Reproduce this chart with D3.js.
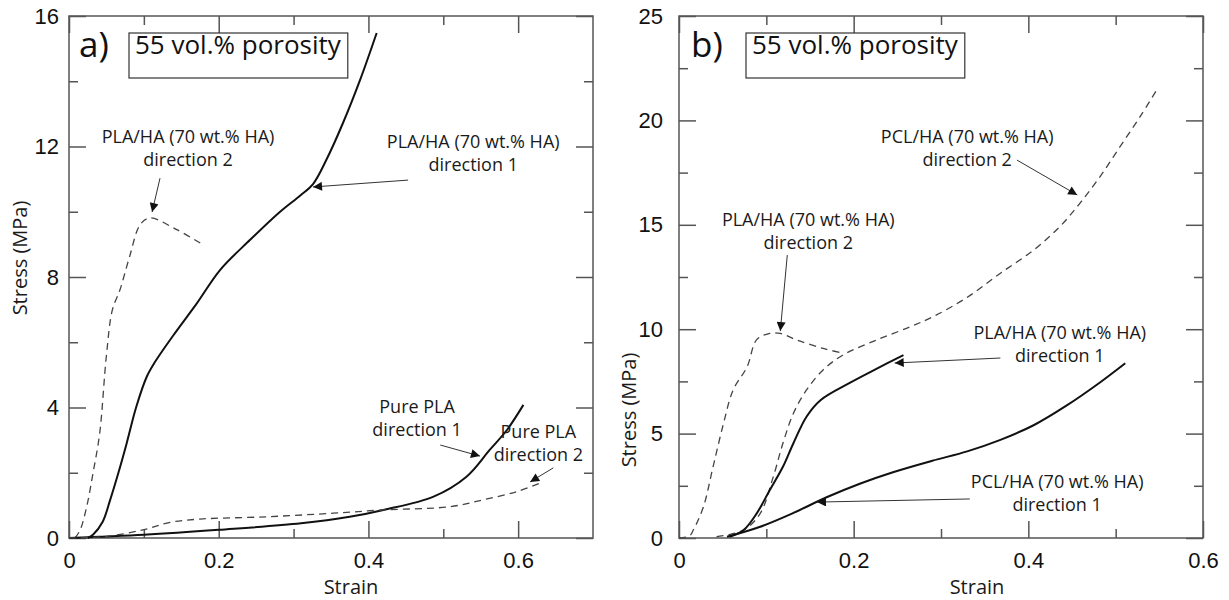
<!DOCTYPE html>
<html>
<head>
<meta charset="utf-8">
<script src="https://cdn.jsdelivr.net/npm/d3@7"></script>
<style>
  body { margin: 0; background: #fff; }
  .tick text { font-family: "Liberation Sans", Arial, sans-serif; font-size: 22px; fill: #111; }
  .tick line { stroke: #555; stroke-width: 1.5; }
  .note { font-family: "Open Sans", sans-serif; font-size: 18px; fill: #1a1a1a; }
  .axis-title { font-family: "Open Sans", sans-serif; font-size: 20px; fill: #1a1a1a; }
</style>
</head>
<body>
<svg id="chart" width="1229" height="600"></svg>
<script>
// ---- panel a) : [strain, stress MPa]
const aPlaHaDir1 = [[0.025, 0], [0.032, 0.1], [0.045, 0.5], [0.055, 1.17], [0.066, 2.0], [0.077, 2.9], [0.090, 4.03],
  [0.104, 4.95], [0.115, 5.4], [0.139, 6.2], [0.171, 7.2], [0.202, 8.22], [0.242, 9.14], [0.282, 10.0],
  [0.309, 10.5], [0.326, 10.85], [0.344, 11.6], [0.366, 12.72], [0.389, 14.05], [0.411, 15.48]];
const aPlaHaDir2 = [[0.008, 0], [0.015, 0.25], [0.024, 1.0], [0.032, 1.98], [0.041, 3.21], [0.050, 5.6], [0.058, 7.0],
  [0.068, 7.6], [0.081, 8.63], [0.095, 9.6], [0.108, 9.81], [0.144, 9.45], [0.179, 8.99]];
const aPureDir1 = [[0.0, 0.0], [0.04, 0.04], [0.1, 0.1], [0.2, 0.25], [0.31, 0.45], [0.375, 0.65], [0.42, 0.86],
  [0.487, 1.27], [0.531, 1.88], [0.562, 2.7], [0.585, 3.31], [0.607, 4.08]];
const aPureDir2 = [[0.0, 0.0], [0.05, 0.05], [0.099, 0.25], [0.135, 0.48], [0.175, 0.58], [0.264, 0.65], [0.353, 0.76],
  [0.42, 0.86], [0.509, 0.96], [0.553, 1.17], [0.598, 1.42], [0.629, 1.68]];

// ---- panel b)
const bPlaHaDir2 = [[0.0, 0.0], [0.012, 0.1], [0.0164, 0.38], [0.028, 1.5], [0.039, 3.41], [0.051, 5.49], [0.062, 7.09],
  [0.078, 8.2], [0.089, 9.5], [0.104, 9.8], [0.116, 9.8], [0.135, 9.48], [0.165, 9.08], [0.188, 8.85]];
const bPclHaDir2 = [[0.043, 0.06], [0.074, 0.38], [0.093, 1.18], [0.108, 2.94], [0.119, 4.54], [0.131, 5.97],
  [0.146, 7.09], [0.165, 8.05], [0.188, 8.77], [0.226, 9.48], [0.265, 10.12], [0.291, 10.6], [0.329, 11.5],
  [0.368, 12.68], [0.406, 13.79], [0.436, 14.91], [0.459, 16.03], [0.482, 17.3], [0.505, 18.74], [0.528, 20.18], [0.549, 21.6]];
const bPlaHaDir1 = [[0.058, 0.06], [0.074, 0.38], [0.089, 1.18], [0.104, 2.3], [0.119, 3.41], [0.131, 4.54],
  [0.146, 5.81], [0.162, 6.6], [0.196, 7.44], [0.226, 8.1], [0.257, 8.76]];
const bPclHaDir1 = [[0.055, 0.06], [0.093, 0.54], [0.131, 1.2], [0.169, 1.95], [0.207, 2.6], [0.245, 3.15],
  [0.29, 3.7], [0.33, 4.15], [0.368, 4.7], [0.406, 5.4], [0.444, 6.35], [0.482, 7.45], [0.511, 8.37]];

// tick values
const aXMajor = [0, 0.2, 0.4, 0.6], aXMinor = [0.1, 0.3, 0.5];
const aYMajor = [0, 4, 8, 12, 16], aYMinor = [2, 6, 10, 14];
const bXMajor = [0, 0.2, 0.4, 0.6], bXMinor = [0.1, 0.3, 0.5];
const bYMajor = [0, 5, 10, 15, 20, 25], bYMinor = [2.5, 7.5, 12.5, 17.5, 22.5];

const svg = d3.select('#chart');

const defs = svg.append('defs');
defs.append('marker')
  .attr('id', 'head')
  .attr('viewBox', '0 0 10 10')
  .attr('refX', 10).attr('refY', 5)
  .attr('markerWidth', 10).attr('markerHeight', 9)
  .attr('markerUnits', 'userSpaceOnUse')
  .attr('orient', 'auto')
  .append('path').attr('d', 'M0,0 L10,5 L0,10 Z').attr('fill', '#111');

function drawPanel(p) {
  var x = d3.scaleLinear().domain(p.xDomain).range([p.left, p.right]);
  var y = d3.scaleLinear().domain(p.yDomain).range([p.bottom, p.top]);
  var g = svg.append('g');

  // ticks, all pointing inward
  function ticks(axis, vals, size, pad, fmt, transform) {
    var a = g.append('g').attr('transform', transform)
      .call(axis.tickValues(vals).tickSize(-size).tickPadding(pad).tickFormat(fmt));
    a.select('.domain').remove();
  }
  var fmt = function (d) { return d3.format('')(d); };
  var none = function () { return ''; };
  ticks(d3.axisBottom(x), p.xMajor, 17, 14, fmt, 'translate(0,' + p.bottom + ')');
  ticks(d3.axisBottom(x), p.xMinor, 9, 14, none, 'translate(0,' + p.bottom + ')');
  ticks(d3.axisTop(x), p.xMajor, 17, 0, none, 'translate(0,' + p.top + ')');
  ticks(d3.axisTop(x), p.xMinor, 9, 0, none, 'translate(0,' + p.top + ')');
  ticks(d3.axisLeft(y), p.yMajor, 17, p.yPad, fmt, 'translate(' + p.left + ',0)');
  ticks(d3.axisLeft(y), p.yMinor, 9, 0, none, 'translate(' + p.left + ',0)');
  ticks(d3.axisRight(y), p.yMajor, 17, 0, none, 'translate(' + p.right + ',0)');
  ticks(d3.axisRight(y), p.yMinor, 9, 0, none, 'translate(' + p.right + ',0)');

  g.append('rect')
    .attr('x', p.left).attr('y', p.top)
    .attr('width', p.right - p.left).attr('height', p.bottom - p.top)
    .attr('fill', 'none').attr('stroke', '#555').attr('stroke-width', 1.5);

  var line = d3.line()
    .x(function (d) { return x(d[0]); })
    .y(function (d) { return y(d[1]); })
    .curve(d3.curveCatmullRom.alpha(0.5));

  p.series.forEach(function (s) {
    g.append('path')
      .datum(s.data)
      .attr('d', line)
      .attr('fill', 'none')
      .attr('stroke', s.dashed ? '#444' : '#111')
      .attr('stroke-width', s.dashed ? 1.3 : 2)
      .attr('stroke-dasharray', s.dashed ? '7,5' : null);
  });

  // notes with arrows
  p.notes.forEach(function (n) {
    var t = g.append('text').attr('class', 'note')
      .attr('x', x(n.at[0])).attr('y', y(n.at[1]))
      .attr('text-anchor', 'middle');
    n.text.forEach(function (s, i) {
      t.append('tspan').attr('x', x(n.at[0])).attr('dy', i == 0 ? '0.35em' : 23).text(s);
    });
    g.append('line')
      .attr('x1', x(n.from[0])).attr('y1', y(n.from[1]))
      .attr('x2', x(n.to[0])).attr('y2', y(n.to[1]))
      .attr('stroke', '#333').attr('stroke-width', 1)
      .attr('marker-end', 'url(#head)');
  });

  // panel letter + porosity box
  g.append('text')
    .attr('x', p.letterX).attr('y', p.top + 41)
    .style('font-family', '"Open Sans", sans-serif').style('font-size', '35px').style('fill', '#111')
    .text(p.letter);
  var box = g.append('text')
    .attr('x', p.boxX + 6).attr('y', p.top + 38)
    .style('font-family', '"Open Sans", sans-serif').style('font-size', '26px').style('fill', '#111')
    .text('55 vol.% porosity');
  var bb = box.node().getBBox();
  g.append('rect')
    .attr('x', p.boxX).attr('y', p.top + 17)
    .attr('width', bb.width + 12).attr('height', 45)
    .attr('fill', 'none').attr('stroke', '#333').attr('stroke-width', 1.2);

  // axis titles
  g.append('text').attr('class', 'axis-title')
    .attr('x', p.xTitleX).attr('y', 594).attr('text-anchor', 'middle')
    .text('Strain');
  g.append('text').attr('class', 'axis-title')
    .attr('transform', 'translate(' + p.yTitleX + ',' + p.yTitleY + ') rotate(-90)')
    .attr('text-anchor', 'middle')
    .text('Stress (MPa)');
}

drawPanel({
  left: 69, right: 593, top: 16, bottom: 538,
  xDomain: [0, 0.7], yDomain: [0, 16],
  xMajor: aXMajor, xMinor: aXMinor, yMajor: aYMajor, yMinor: aYMinor, yPad: 10,
  letter: 'a)', letterX: 79, boxX: 129,
  xTitleX: 351, yTitleX: 27, yTitleY: 258,
  series: [
    { data: aPlaHaDir1, dashed: false },
    { data: aPlaHaDir2, dashed: true },
    { data: aPureDir1, dashed: false },
    { data: aPureDir2, dashed: true }
  ],
  notes: [
    { text: ['PLA/HA (70 wt.% HA)', 'direction 2'], at: [0.159, 12.29], from: [0.1216, 11.03], to: [0.111, 9.99] },
    { text: ['PLA/HA (70 wt.% HA)', 'direction 1'], at: [0.540, 12.14], from: [0.453, 10.97], to: [0.326, 10.76] },
    { text: ['Pure PLA', 'direction 1'], at: [0.465, 4.02], from: [0.496, 2.85], to: [0.549, 2.51] },
    { text: ['Pure PLA', 'direction 2'], at: [0.627, 3.25], from: [0.647, 2.15], to: [0.616, 1.72] }
  ]
});

drawPanel({
  left: 679, right: 1203, top: 16, bottom: 538,
  xDomain: [0, 0.6], yDomain: [0, 25],
  xMajor: bXMajor, xMinor: bXMinor, yMajor: bYMajor, yMinor: bYMinor, yPad: 16,
  letter: 'b)', letterX: 691, boxX: 746,
  xTitleX: 977, yTitleX: 636, yTitleY: 410,
  series: [
    { data: bPlaHaDir2, dashed: true },
    { data: bPclHaDir2, dashed: true },
    { data: bPlaHaDir1, dashed: false },
    { data: bPclHaDir1, dashed: false }
  ],
  notes: [
    { text: ['PCL/HA (70 wt.% HA)', 'direction 2'], at: [0.330, 19.2], from: [0.387, 18.1], to: [0.456, 16.43] },
    { text: ['PLA/HA (70 wt.% HA)', 'direction 2'], at: [0.148, 15.23], from: [0.124, 13.55], to: [0.116, 9.91] },
    { text: ['PLA/HA (70 wt.% HA)', 'direction 1'], at: [0.436, 9.82], from: [0.368, 8.62], to: [0.247, 8.38] },
    { text: ['PCL/HA (70 wt.% HA)', 'direction 1'], at: [0.433, 2.68], from: [0.333, 1.87], to: [0.158, 1.72] }
  ]
});
</script>
</body>
</html>
